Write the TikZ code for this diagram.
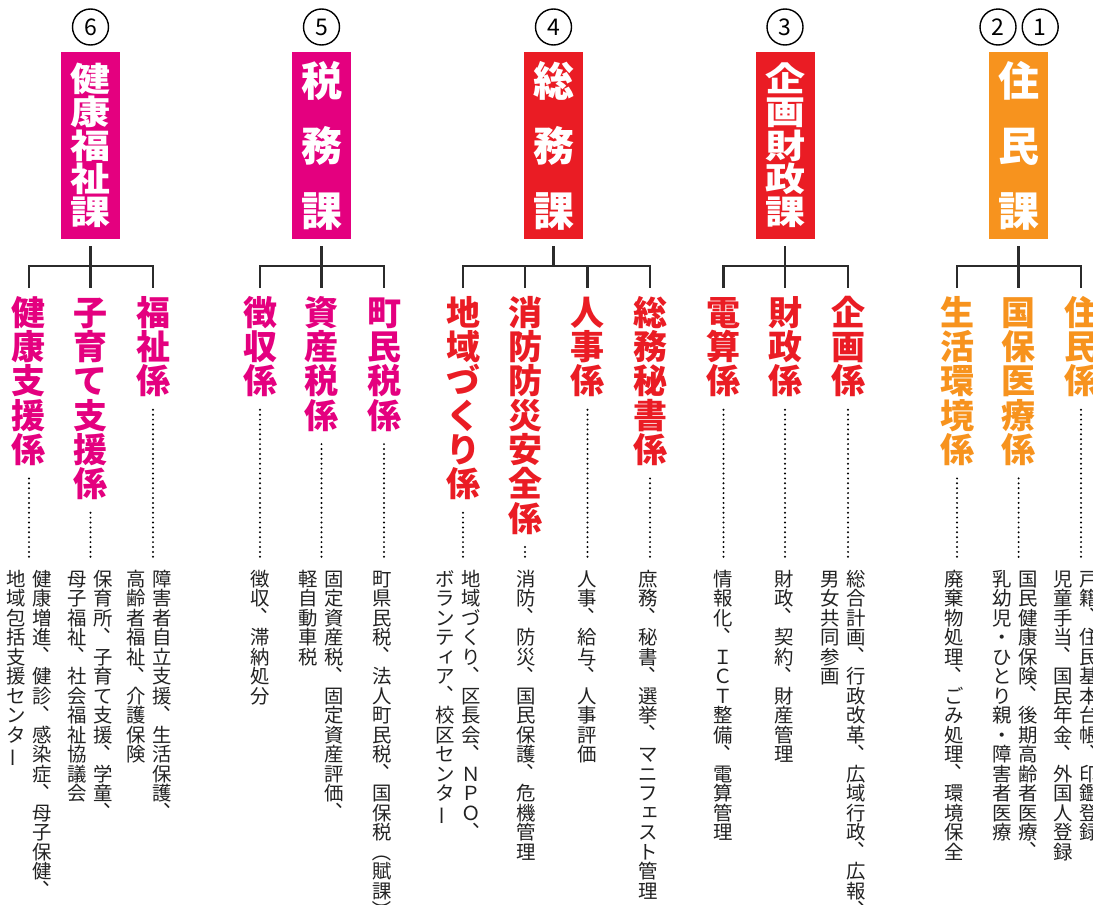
\documentclass[tikz,border=0pt]{standalone}
\usepackage{fontspec}
\usepackage{graphicx}
\newfontfamily\jp{Noto Sans CJK JP}
\definecolor{mag}{HTML}{E4007F}
\definecolor{myred}{HTML}{EA1C24}
\definecolor{myorg}{HTML}{F7931E}
\definecolor{linec}{HTML}{2B2B2B}
\definecolor{txtc}{HTML}{222222}
\newdimen\vtpitch
\def\vtEnd{}
\def\vt#1{\vtop{\offinterlineskip\vtA#1\vtEnd}}
\def\vtA#1{\ifx#1\vtEnd\else\vcell#1\expandafter\vtA\fi}
\def\vcell#1{\hbox to 1em{\vrule height\dimexpr0.88em+(\vtpitch-1em)/2\relax depth\dimexpr0.12em+(\vtpitch-1em)/2\relax width0pt\hss\vglyph#1\hss}}
\def\vshift#1#2#3{\hbox to 1em{\kern#1\raise#2\hbox{#3}\hss}}
\def\vrot#1#2{\hbox to 1em{\hss\rotatebox[origin=c]{#1}{#2}\hss}}
\def\vglyph#1{\ifx#1、\vshift{0.55em}{0.64em}{#1}\else\ifx#1ー\vrot{90}{#1}\else\ifx#1（\vrot{-90}{#1}\else\ifx#1）\vrot{-90}{#1}\else\ifx#1ィ\vshift{0.1em}{0.12em}{#1}\else\ifx#1ェ\vshift{0.1em}{0.12em}{#1}\else#1\fi\fi\fi\fi\fi\fi}
\newcommand\dsctwo[2]{\hbox{\vt{#2}\kern6.6pt\vt{#1}}}
\newcommand\secfont{\jp\bfseries\fontsize{34}{34}\selectfont\vtpitch=34.3pt\relax}
\newcommand\dscfont{\jp\fontsize{19.4}{19.4}\selectfont\vtpitch=19.5pt\relax}
\newcommand\bfontA{\jp\bfseries\fontsize{40}{40}\selectfont\vtpitch=40pt\relax}
\newcommand\bfontB{\jp\bfseries\fontsize{41}{41}\selectfont\vtpitch=65pt\relax}
\newcommand\cfont{\jp\fontsize{23}{23}\selectfont}
\tikzset{
  divbox/.style={minimum width=59pt, minimum height=187pt, inner sep=0pt, draw=none},
  boxtxt/.style={inner sep=0pt, text=white},
  circ/.style={circle, draw=black, line width=1.4pt, minimum size=36pt, inner sep=0pt, font=\cfont},
  sec/.style={inner sep=0pt, anchor=north, font=\secfont},
  dsc/.style={inner sep=0pt, anchor=north, font=\dscfont, text=txtc},
  tree/.style={draw=linec, line width=2.6pt},
  dotl/.style={draw=black, line width=2.2pt, line cap=round, dash pattern=on 0pt off 4.9pt, shorten <=11.5pt, shorten >=11pt}
}
\begin{document}
\begin{tikzpicture}[x=1pt,y=-1pt]
\useasboundingbox (0,0) rectangle (1093,905);
\fill[white] (0,0) rectangle (1093,905);
\clip (0,0) rectangle (1093,905);

% ---------- circles ----------
\node[circ] (n6) at (90.5,27) {6};
\node[circ] (n5) at (321.5,27) {5};
\node[circ] (n4) at (553.5,27) {4};
\node[circ] (n3) at (785,27) {3};
\node[circ] (n2) at (998,27) {2};
\node[circ] (n1) at (1040.2,27) {1};

% ---------- division boxes ----------
\node[divbox, fill=mag] (b6) at (90.5,145.5) {};
\node[boxtxt, font=\bfontA] (t6) at (b6.center) {\scalebox{1}[0.835]{\vt{健康福祉課}}};
\node[divbox, fill=mag] (b5) at (321.5,145.5) {};
\node[boxtxt, font=\bfontB] (t5) at (b5.center) {\vt{税務課}};
\node[divbox, fill=myred] (b4) at (553.5,145.5) {};
\node[boxtxt, font=\bfontB] (t4) at (b4.center) {\vt{総務課}};
\node[divbox, fill=myred] (b3) at (785,145.5) {};
\node[boxtxt, font=\bfontA] (t3) at (b3.center) {\scalebox{1}[0.835]{\vt{企画財政課}}};
\node[divbox, fill=myorg] (b1) at (1018.6,145.5) {};
\node[boxtxt, font=\bfontB] (t1) at (b1.center) {\vt{住民課}};

% ---------- section labels ----------
\node[sec, text=mag] (s61) at (29,295) {\vt{健康支援係}};
\node[sec, text=mag] (s62) at (90.5,295) {\vt{子育て支援係}};
\node[sec, text=mag] (s63) at (153,295) {\vt{福祉係}};
\node[sec, text=mag] (s51) at (260,295) {\vt{徴収係}};
\node[sec, text=mag] (s52) at (321.5,295) {\vt{資産税係}};
\node[sec, text=mag] (s53) at (384,295) {\vt{町民税係}};
\node[sec, text=myred] (s41) at (463,295) {\vt{地域づくり係}};
\node[sec, text=myred] (s42) at (525,295) {\vt{消防防災安全係}};
\node[sec, text=myred] (s43) at (587.5,295) {\vt{人事係}};
\node[sec, text=myred] (s44) at (650,295) {\vt{総務秘書係}};
\node[sec, text=myred] (s31) at (723.5,295) {\vt{電算係}};
\node[sec, text=myred] (s32) at (785,295) {\vt{財政係}};
\node[sec, text=myred] (s33) at (848,295) {\vt{企画係}};
\node[sec, text=myorg] (s21) at (957,295) {\vt{生活環境係}};
\node[sec, text=myorg] (s22) at (1018.6,295) {\vt{国保医療係}};
\node[sec, text=myorg] (s23) at (1081,295) {\vt{住民係}};

% ---------- descriptions ----------
\node[dsc] (d61) at (29,569) {\dsctwo{健康増進、健診、感染症、母子保健、}{地域包括支援センター}};
\node[dsc] (d62) at (90,569) {\dsctwo{保育所、子育て支援、学童、}{母子福祉、社会福祉協議会}};
\node[dsc] (d63) at (149.5,569) {\dsctwo{障害者自立支援、生活保護、}{高齢者福祉、介護保険}};
\node[dsc] (d51) at (260,569) {\vt{徴収、滞納処分}};
\node[dsc] (d52) at (321.5,569) {\dsctwo{固定資産税、固定資産評価、}{軽自動車税}};
\node[dsc] (d53) at (382,569) {\vt{町県民税、法人町民税、国保税（賦課）}};
\node[dsc] (d41) at (458.5,569) {\dsctwo{地域づくり、区長会、ＮＰＯ、}{ボランティア、校区センター}};
\node[dsc] (d42) at (526,569) {\vt{消防、防災、国民保護、危機管理}};
\node[dsc] (d43) at (587,569) {\vt{人事、給与、人事評価}};
\node[dsc] (d44) at (648,569) {\vt{庶務、秘書、選挙、マニフェスト管理}};
\node[dsc] (d31) at (723,569) {\vt{情報化、ＩＣＴ整備、電算管理}};
\node[dsc] (d32) at (784,569) {\vt{財政、契約、財産管理}};
\node[dsc] (d33) at (843.5,569) {\dsctwo{総合計画、行政改革、広域行政、広報、}{男女共同参画}};
\node[dsc] (d21) at (954,569) {\vt{廃棄物処理、ごみ処理、環境保全}};
\node[dsc] (d22) at (1015.5,569) {\dsctwo{国民健康保険、後期高齢者医療、}{乳幼児・ひとり親・障害者医療}};
\node[dsc] (d23) at (1076,569) {\dsctwo{戸籍、住民基本台帳、印鑑登録}{児童手当、国民年金、外国人登録}};

% ---------- tree connectors ----------
\coordinate (j6) at (90.5,266);
\draw[tree] ([yshift=-7pt]b6.south) -- (j6);
\draw[tree] ([yshift=7pt]s61.north) |- (j6) -| ([yshift=7pt]s63.north);
\draw[tree] (j6) -- ([yshift=7pt]s62.north);

\coordinate (j5) at (321.5,266);
\draw[tree] ([yshift=-7pt]b5.south) -- (j5);
\draw[tree] ([yshift=7pt]s51.north) |- (j5) -| ([yshift=7pt]s53.north);
\draw[tree] (j5) -- ([yshift=7pt]s52.north);

\coordinate (j4) at (553.5,266);
\draw[tree] ([yshift=-7pt]b4.south) -- (j4);
\draw[tree] ([yshift=7pt]s41.north) |- (j4) -| ([yshift=7pt]s44.north);
\draw[tree] ([yshift=7pt]s42.north) -- (s42.north |- j4);
\draw[tree] ([yshift=7pt]s43.north) -- (s43.north |- j4);

\coordinate (j3) at (785,266);
\draw[tree] ([yshift=-7pt]b3.south) -- (j3);
\draw[tree] ([yshift=7pt]s31.north) |- (j3) -| ([yshift=7pt]s33.north);
\draw[tree] (j3) -- ([yshift=7pt]s32.north);

\coordinate (j1) at (1018.6,266);
\draw[tree] ([yshift=-7pt]b1.south) -- (j1);
\draw[tree] ([yshift=7pt]s21.north) |- (j1) -| ([yshift=7pt]s23.north);
\draw[tree] (j1) -- ([yshift=7pt]s22.north);

% ---------- dotted leaders ----------
\foreach \s in {61,62,63,51,52,53,41,42,43,44,31,32,33,21,22,23}{
  \draw[dotl] (s\s.south) -- (s\s.south |- d\s.north);
}
\end{tikzpicture}
\end{document}
